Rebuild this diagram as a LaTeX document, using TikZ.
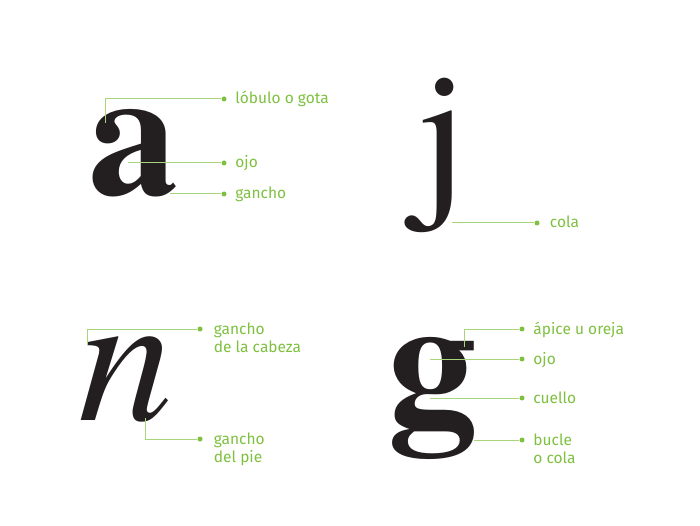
\documentclass[tikz,border=0pt]{standalone}
\usepackage{fontspec}
\setmainfont{Fira Sans}
\newfontfamily\letrafont{TeX Gyre Termes}
\usetikzlibrary{positioning}
\definecolor{verdetexto}{RGB}{126,192,64}
\definecolor{verdelinea}{RGB}{168,212,122}
\definecolor{tinta}{RGB}{35,31,32}

\begin{document}
\begin{tikzpicture}[x=1pt,y=-1pt,node distance=8.5pt]
  \tikzstyle{glifo}=[inner sep=0pt,anchor=base,text=tinta]
  \tikzstyle{punto}=[circle,fill=verdetexto,inner sep=0pt,minimum size=5pt]
  \tikzstyle{etiqueta}=[inner sep=0pt,text=verdetexto,align=left,font=\fontsize{15.5}{18}\selectfont]
  \tikzstyle{linea}=[draw=verdelinea,line width=1pt]
  \useasboundingbox (0,0) rectangle (700,526);
  \node[glifo,font=\letrafont\bfseries\fontsize{180}{180}\selectfont] (letraA) at (133,195) {a};
  \node[glifo,font=\letrafont\fontsize{180}{180}\selectfont] (letraJ) at (443,194) {j};
  \node[glifo,font=\letrafont\itshape\fontsize{190}{190}\selectfont] (letraN) at (126,420) {n};
  \node[glifo,font=\letrafont\bfseries\fontsize{180}{180}\selectfont] (letraG) at (432,422) {g};

  \coordinate (aLobulo) at (105,123);
  \coordinate (aOjo) at (128,163);
  \coordinate (aGancho) at (170,194);
  \coordinate (jCola) at (452,223);
  \coordinate (nCabeza) at (87,345);
  \coordinate (nPie) at (145,418);
  \coordinate (gApice) at (464,347);
  \coordinate (gOjo) at (430,359);
  \coordinate (gCuello) at (430,398);
  \coordinate (gBucle) at (474,440);

  \node[punto] (dLobulo) at (224,99) {};
  \node[punto] (dOjoA) at (224,163) {};
  \node[punto] (dGanchoA) at (224,194) {};
  \node[punto] (dCola) at (537,223) {};
  \node[punto] (dCabeza) at (200,329) {};
  \node[punto] (dPie) at (200,439) {};
  \node[punto] (dApice) at (522,329) {};
  \node[punto] (dOjoG) at (522,359) {};
  \node[punto] (dCuello) at (522,398) {};
  \node[punto] (dBucle) at (522,440) {};

  \draw[linea] (aLobulo) |- (dLobulo);
  \draw[linea] (aOjo) -- (dOjoA);
  \draw[linea] (aGancho) -- (dGanchoA);
  \draw[linea] (jCola) -- (dCola);
  \draw[linea] (nCabeza) |- (dCabeza);
  \draw[linea] (nPie) |- (dPie);
  \draw[linea] (gApice) |- (dApice);
  \draw[linea] (gOjo) -- (dOjoG);
  \draw[linea] (gCuello) -- (dCuello);
  \draw[linea] (gBucle) -- (dBucle);

  \node[etiqueta,right=of dLobulo,anchor=base west,yshift=-5pt] (lobulo) {lóbulo o gota};
  \node[etiqueta,right=of dOjoA,anchor=base west,yshift=-5pt] (ojoA) {ojo};
  \node[etiqueta,right=of dGanchoA,anchor=base west,yshift=-5pt] (ganchoA) {gancho};
  \node[etiqueta,right=10pt of dCola,anchor=base west,yshift=-5pt] (cola) {cola};
  \node[etiqueta,right=11pt of dCabeza,anchor=base west,yshift=-23pt] (cabeza) {gancho\\de la cabeza};
  \node[etiqueta,right=11pt of dPie,anchor=base west,yshift=-23pt] (pie) {gancho\\del pie};
  \node[etiqueta,right=of dApice,anchor=base west,yshift=-5pt] (apice) {ápice u oreja};
  \node[etiqueta,right=of dOjoG,anchor=base west,yshift=-5pt] (ojoG) {ojo};
  \node[etiqueta,right=of dCuello,anchor=base west,yshift=-5pt] (cuello) {cuello};
  \node[etiqueta,right=of dBucle,anchor=base west,yshift=-23pt] (bucle) {bucle\\o cola};
\end{tikzpicture}
\end{document}
